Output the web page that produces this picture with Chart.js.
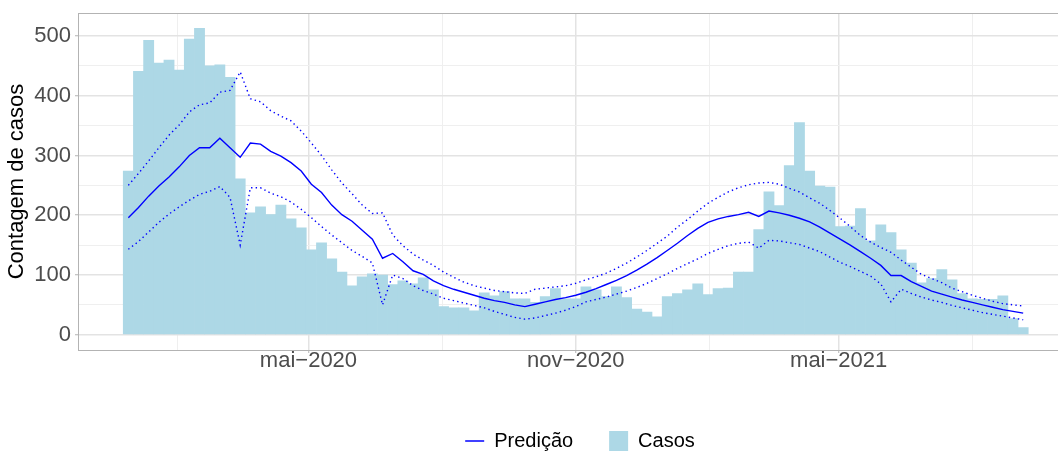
<!DOCTYPE html>
<html lang="pt">
<head>
<meta charset="utf-8">
<title>Casos semanais e predição</title>
<script src="https://cdn.jsdelivr.net/npm/chart.js@4.4.0/dist/chart.umd.min.js"></script>
<style>
  html, body { margin: 0; padding: 0; background: #fff; overflow: hidden; }
  canvas { display: block; }
</style>
</head>
<body>
<canvas id="grafico" width="1160" height="461"></canvas>
<script>
// semanas epidemiológicas, a primeira começa em 29/12/2019
const primeiraSemana = "2019-12-29";
const numSemanas = 89;

const casos = [
  274, 441, 493, 455, 460, 443, 495, 513, 450, 452,
  431, 261, 204, 214, 201, 217, 194, 179, 142, 154,
  127, 105, 82, 97, 102, 100, 84, 90, 85, 95,
  75, 47, 45, 45, 40, 70, 65, 72, 60, 60,
  54, 64, 77, 60, 60, 80, 75, 64, 80, 62,
  43, 38, 30, 64, 69, 75, 85, 67, 77, 78,
  105, 105, 176, 239, 216, 283, 355, 274, 249, 247,
  181, 182, 211, 157, 184, 171, 142, 120, 87, 94,
  109, 92, 69, 60, 59, 59, 65, 27, 12
];

const predicao = [
  196, 213, 232, 249, 264, 281, 300, 313, 313, 329,
  313, 297, 321, 319, 307, 299, 288, 274, 252, 238,
  217, 201, 190, 175, 160, 128, 136, 122, 107, 101,
  90, 82, 76, 71, 66, 61, 57, 54, 50, 47,
  51, 55, 59, 62, 66, 71, 77, 84, 91, 99,
  108, 118, 129, 141, 153, 166, 178, 188, 194, 198,
  201, 205, 198, 207, 204, 200, 195, 189, 180, 170,
  160, 150, 139, 128, 116, 99, 99, 89, 81, 73,
  68, 63, 58, 54, 50, 46, 42, 39, 36
];

const limiteSuperior = [
  250, 270, 291, 313, 334, 351, 373, 385, 388, 406,
  409, 440, 395, 390, 375, 366, 358, 341, 321, 300,
  276, 254, 236, 217, 203, 204, 167, 149, 135, 125,
  116, 105, 96, 88, 82, 78, 74, 72, 70, 69,
  76, 78, 80, 82, 86, 92, 97, 103, 111, 120,
  130, 141, 153, 165, 180, 193, 207, 220, 230, 239,
  246, 251, 254, 255, 252, 245, 239, 229, 220, 208,
  195, 181, 166, 155, 146, 138, 125, 113, 101, 94,
  87, 78, 72, 66, 61, 56, 52, 50, 48
];

const limiteInferior = [
  143, 156, 172, 188, 202, 214, 225, 235, 240, 248,
  230, 150, 246, 246, 237, 231, 222, 210, 196, 181,
  167, 154, 141, 131, 120, 50, 100, 94, 82, 74,
  68, 61, 57, 53, 49, 45, 39, 34, 29, 26,
  28, 32, 36, 41, 47, 55, 59, 63, 68, 73,
  79, 86, 94, 102, 111, 119, 127, 136, 143, 149,
  153, 155, 145, 158, 157, 154, 151, 145, 139, 130,
  121, 114, 106, 98, 85, 55, 76, 69, 63, 58,
  54, 49, 45, 41, 37, 34, 31, 28, 25
];

const rotulosX = ["mai\u22122020", "nov\u22122020", "mai\u22122021"];
const datasRotulosX = ["2020-05-01", "2020-11-01", "2021-05-01"];
const datasGradeMenorX = ["2020-02-01", "2020-08-01", "2021-02-01", "2021-08-01"];
const ticksY = [0, 100, 200, 300, 400, 500];
const gradeMenorY = [50, 150, 250, 350, 450];

// dias desde 01/01/2020
function dia(s) {
  return (Date.parse(s) - Date.parse("2020-01-01")) / 86400000;
}

const semanas = [];
for (let i = 0; i < numSemanas; i++) semanas.push(dia(primeiraSemana) + 7 * i);

function pares(valores) {
  return valores.map((v, i) => ({ x: semanas[i], y: v }));
}

// limites dos eixos com a expansão de 5% do ggplot
const xIni = semanas[0] - 3.5;
const xFim = semanas[semanas.length - 1] + 3.5;
const xExp = (xFim - xIni) * 0.05;
const yMaxDados = Math.max(...casos, ...limiteSuperior);
const yExp = yMaxDados * 0.05;

const diasMaiores = datasRotulosX.map(dia);
const ticksX = diasMaiores.concat(datasGradeMenorX.map(dia)).sort((a, b) => a - b);

const azul = "#0000ff";
const cinzaTexto = "#4d4d4d";
Chart.defaults.font.family = '"Liberation Sans", Arial, sans-serif';

const moldura = {
  id: "moldura",
  afterDatasetsDraw(chart) {
    const { ctx, chartArea: a } = chart;
    ctx.save();
    ctx.strokeStyle = "#b3b3b3";
    ctx.lineWidth = 1;
    ctx.strokeRect(a.left + 0.5, a.top + 0.5, a.right - a.left, a.bottom - a.top);
    ctx.restore();
  }
};

new Chart(document.getElementById("grafico"), {
  type: "bar",
  data: {
    datasets: [
      {
        type: "line",
        label: "Predição",
        data: pares(predicao),
        borderColor: azul,
        borderWidth: 1.4,
        pointRadius: 0,
        fill: false,
        order: 1
      },
      {
        type: "line",
        label: "Limite superior",
        data: pares(limiteSuperior),
        borderColor: azul,
        borderWidth: 1.4,
        borderDash: [1.4, 3.2],
        pointRadius: 0,
        fill: false,
        order: 2
      },
      {
        type: "line",
        label: "Limite inferior",
        data: pares(limiteInferior),
        borderColor: azul,
        borderWidth: 1.4,
        borderDash: [1.4, 3.2],
        pointRadius: 0,
        fill: false,
        order: 3
      },
      {
        label: "Casos",
        data: pares(casos),
        backgroundColor: "#add8e6",
        barPercentage: 1,
        categoryPercentage: 1,
        order: 4
      }
    ]
  },
  options: {
    responsive: false,
    animation: false,
    devicePixelRatio: 1,
    layout: { padding: { top: 13, left: 0, right: 0, bottom: 0 } },
    plugins: {
      tooltip: { enabled: false },
      legend: {
        position: "bottom",
        labels: {
          usePointStyle: true,
          pointStyleWidth: 19,
          boxHeight: 20,
          padding: 36,
          color: "#000",
          font: { size: 20 },
          generateLabels: () => [
            { text: "Predição", pointStyle: "line", strokeStyle: azul, fillStyle: azul, lineWidth: 1.5, hidden: false, datasetIndex: 0 },
            { text: "Casos", pointStyle: "rect", strokeStyle: "#add8e6", fillStyle: "#add8e6", lineWidth: 0, hidden: false, datasetIndex: 3 }
          ]
        }
      }
    },
    scales: {
      x: {
        type: "linear",
        min: xIni - xExp,
        max: xFim + xExp,
        offset: false,
        border: { display: false },
        grid: {
          offset: false,
          tickLength: 3,
          color: c => diasMaiores.includes(c.tick.value) ? "#e3e3e3" : "#efefef",
          lineWidth: c => diasMaiores.includes(c.tick.value) ? 1.5 : 1,
          tickColor: c => diasMaiores.includes(c.tick.value) ? "#b3b3b3" : "rgba(0,0,0,0)",
          tickWidth: 1
        },
        afterBuildTicks: s => { s.ticks = ticksX.map(v => ({ value: v })); },
        afterFit: s => { s.height = 45; s.paddingLeft = 0; s.paddingRight = 86.5; },
        ticks: {
          autoSkip: false,
          maxRotation: 0,
          padding: -3,
          color: cinzaTexto,
          font: { size: 22, lineHeight: 1 },
          callback: v => {
            const i = diasMaiores.indexOf(v);
            return i >= 0 ? rotulosX[i] : "";
          }
        }
      },
      y: {
        min: -yExp,
        max: yMaxDados + yExp,
        border: { display: false },
        grid: {
          tickLength: 3,
          color: c => ticksY.includes(c.tick.value) ? "#e3e3e3" : "#efefef",
          lineWidth: c => ticksY.includes(c.tick.value) ? 1.5 : 1,
          tickColor: c => ticksY.includes(c.tick.value) ? "#b3b3b3" : "rgba(0,0,0,0)",
          tickWidth: 1
        },
        afterBuildTicks: s => {
          s.ticks = ticksY.concat(gradeMenorY).sort((a, b) => a - b).map(v => ({ value: v }));
        },
        afterFit: s => { s.width = 78; s.paddingTop = 0; s.paddingBottom = 0; },
        ticks: {
          padding: 4,
          color: cinzaTexto,
          font: { size: 22 },
          callback: v => ticksY.includes(v) ? String(v) : ""
        },
        title: {
          display: true,
          text: "Contagem de casos",
          color: "#000",
          font: { size: 22 },
          padding: { top: 4, bottom: 0 }
        }
      }
    }
  },
  plugins: [moldura]
});
</script>
</body>
</html>
